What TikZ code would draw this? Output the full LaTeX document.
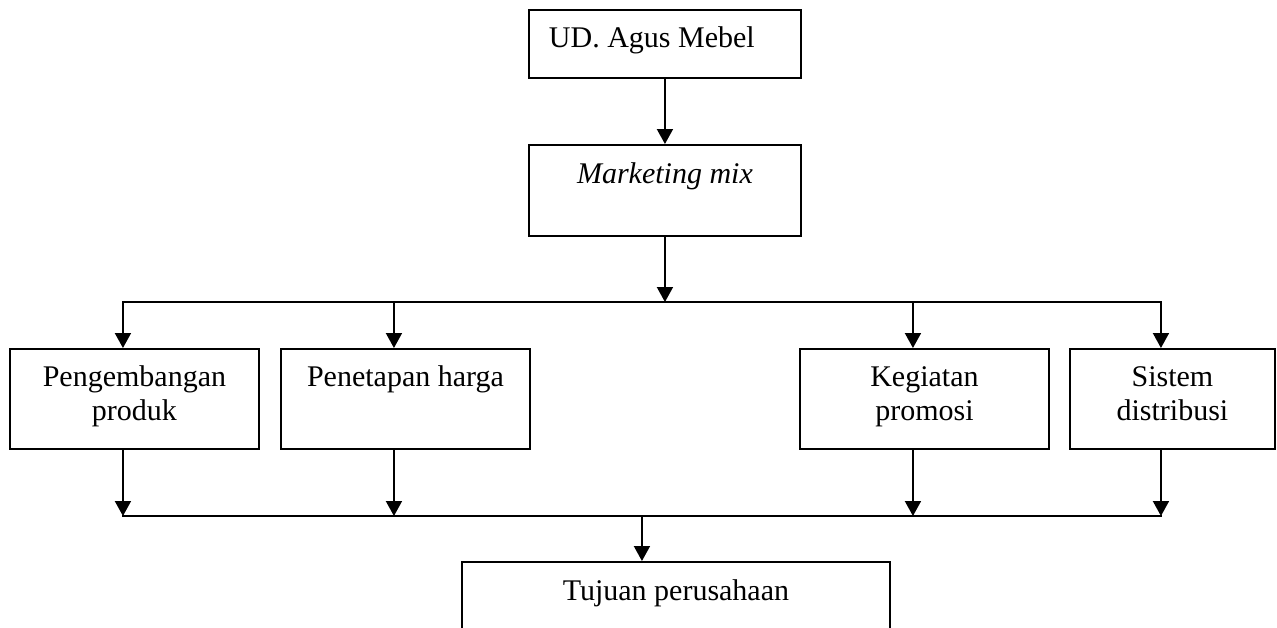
\documentclass[tikz,border=0pt]{standalone}
\usepackage{fontspec}
\setmainfont{Liberation Serif}
\usetikzlibrary{arrows.meta}
\begin{document}
\begin{tikzpicture}[x=1pt,y=-1pt,
  box/.style={draw, line width=1.9pt, inner sep=0pt, anchor=north west,
    font=\fontsize{30}{34}\selectfont, text height=38pt},
  arr/.style={line width=1.9pt, -{Triangle[width=16pt,length=15pt]}},
  busline/.style={line width=1.9pt, line cap=rect}]
\clip (0,0) rectangle (1277,627);
% boxes
\node[box, minimum width=272pt, text depth=30pt, inner xsep=20pt] (b1) at (528,9)
  {\makebox[232pt][l]{UD. Agus Mebel}};
\node[box, minimum width=272pt, text height=39pt, text depth=52pt] (b2) at (528,144)
  {\textit{Marketing mix}};
\node[box, minimum width=249pt, text depth=62pt] (p1) at (9,348)
  {\begin{tabular}[t]{@{}c@{}}Pengembangan\\produk\end{tabular}};
\node[box, minimum width=249pt, text depth=62pt] (p2) at (280,348)
  {Penetapan harga};
\node[box, minimum width=249pt, text depth=62pt] (p3) at (799,348)
  {\begin{tabular}[t]{@{}c@{}}Kegiatan\\promosi\end{tabular}};
\node[box, minimum width=205pt, text depth=62pt] (p4) at (1069,348)
  {\begin{tabular}[t]{@{}c@{}}Sistem\\distribusi\end{tabular}};
\node[box, minimum width=428pt, text height=39pt, text depth=81pt] (tj) at (461,561)
  {Tujuan perusahaan};
% bus levels
\coordinate (tb) at (0,302);
\coordinate (bb) at (0,516);
\foreach \n in {p1,p2,p3,p4}{
  \coordinate (\n t) at ([xshift=-11.5pt]\n.north);
  \coordinate (\n b) at ([xshift=-11.5pt]\n.south);
}
\coordinate (tjt) at ([xshift=-34pt]tj.north);
% connectors
\draw[arr] (b1.south) -- (b2.north);
\draw[arr] (b2.south) -- (b2.south |- tb);
\draw[busline] (p1t |- tb) -- (p4t |- tb);
\foreach \n in {p1,p2,p3,p4}{
  \draw[arr] (\n t |- tb) -- (\n t);
  \draw[arr] (\n b) -- (\n b |- bb);
}
\draw[busline] (p1b |- bb) -- (p4b |- bb);
\draw[arr] (tjt |- bb) -- (tjt);
\end{tikzpicture}
\end{document}
